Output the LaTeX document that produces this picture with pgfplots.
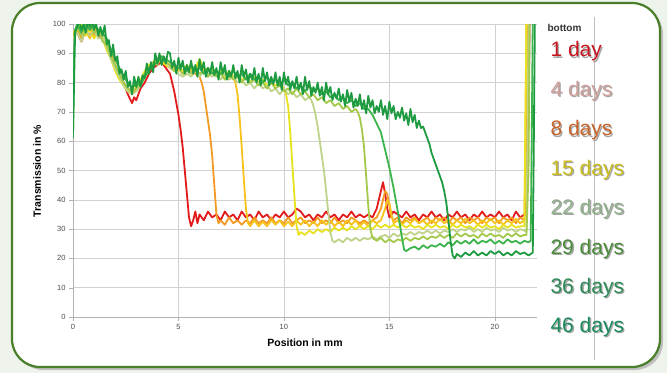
\documentclass[border=0pt]{standalone}
\usepackage{pgfplots}
\pgfplotsset{compat=1.18}
\usepackage{fontspec}
\setmainfont{Liberation Sans}
\definecolor{cA}{HTML}{E31A1C}
\definecolor{cB}{HTML}{F39A26}
\definecolor{cC}{HTML}{F8C21C}
\definecolor{cD}{HTML}{E8E21E}
\definecolor{cE}{HTML}{BFD38A}
\definecolor{cF}{HTML}{A4C94A}
\definecolor{cG}{HTML}{3CB44B}
\definecolor{cH}{HTML}{1E9B40}
\definecolor{tA}{HTML}{C8141E}
\definecolor{tB}{HTML}{CFA09B}
\definecolor{tC}{HTML}{C8642A}
\definecolor{tD}{HTML}{C8BC1E}
\definecolor{tE}{HTML}{8FAF8A}
\definecolor{tF}{HTML}{4A8A3A}
\definecolor{tG}{HTML}{2E8B57}
\definecolor{tH}{HTML}{1A8A5A}
\definecolor{frameg}{HTML}{4A7F2A}
\definecolor{bgout}{HTML}{EEF3EC}
\begin{document}
\begin{tikzpicture}[x=1pt,y=1pt]
\fill[bgout] (0,0) rectangle (667,373);
\fill[black!25,rounded corners=28pt] (15,3) rectangle (663,367);
\filldraw[fill=white,draw=frameg,line width=2.2pt,rounded corners=28pt] (12,6) rectangle (660,370);
\draw[black!25,line width=0.6pt] (594,13) -- (594,356);
\begin{axis}[
 at={(73pt,56pt)}, anchor=south west, scale only axis, width=464pt, height=293pt,
 xmin=0, xmax=22, ymin=0, ymax=100,
 xtick={0,5,10,15,20}, ytick={0,10,...,100},
 grid=major, grid style={draw=black!18, line width=0.6pt},
 axis x line*=bottom, axis y line*=left,
 axis line style={draw=black!30, line width=0.6pt, -},
 tick align=outside, major tick length=4pt, tick style={draw=black!30},
 ticklabel style={font=\fontsize{7.5}{9}\selectfont, text=black!70},
 /pgf/number format/assume math mode=true,
 every axis plot/.append style={line width=1.8pt, mark=none, line join=round},
]
% 1 day
\addplot[cA] table[row sep=\\] {x y\\
0 95\\ 0.1 98\\ 0.2 97\\ 0.4 94\\ 0.6 98\\ 0.8 96\\ 1.0 99\\ 1.2 96\\ 1.4 95\\ 1.6 93\\ 1.8 89\\ 2.0 86\\ 2.2 82\\ 2.4 80\\ 2.6 76\\ 2.8 73\\ 2.9 75\\ 3.0 74\\ 3.2 78\\ 3.4 80\\ 3.6 83\\ 3.8 85\\ 4.0 86\\ 4.2 87\\ 4.4 85\\ 4.6 83\\ 4.7 80\\ 4.8 77\\ 4.9 73\\ 5.0 69\\ 5.1 64\\ 5.2 58\\ 5.3 50\\ 5.4 42\\ 5.5 34\\ 5.6 31\\ 5.7 33\\ 5.8 36\\ 5.9 32\\ 6.0 35\\ 6.2 33\\ 6.4 36\\ 6.6 34\\ 6.8 35\\ 7.0 33\\ 7.2 36\\ 7.4 34\\ 7.6 35\\ 7.8 33\\ 8.0 36\\ 8.2 34\\ 8.4 35\\ 8.6 33\\ 8.8 36\\ 9.0 34\\ 9.2 35\\ 9.4 33\\ 9.6 35\\ 9.8 34\\ 10.0 36\\ 10.2 34\\ 10.4 35\\ 10.6 37\\ 10.8 36\\ 11.0 34\\ 11.2 35\\ 11.4 33\\ 11.6 35\\ 11.8 34\\ 12.0 36\\ 12.2 34\\ 12.4 35\\ 12.6 33\\ 12.8 35\\ 13.0 34\\ 13.2 36\\ 13.4 34\\ 13.6 35\\ 13.8 34\\ 14.0 35\\ 14.2 34\\ 14.4 37\\ 14.5 40\\ 14.6 43\\ 14.7 46\\ 14.8 42\\ 14.9 37\\ 15.0 34\\ 15.2 36\\ 15.4 35\\ 15.6 34\\ 15.8 36\\ 16.0 34\\ 16.2 35\\ 16.4 33\\ 16.6 35\\ 16.8 34\\ 17.0 36\\ 17.2 34\\ 17.4 35\\ 17.6 33\\ 17.8 35\\ 18.0 34\\ 18.2 36\\ 18.4 34\\ 18.6 35\\ 18.8 33\\ 19.0 35\\ 19.2 34\\ 19.4 36\\ 19.6 34\\ 19.8 35\\ 20.0 34\\ 20.2 36\\ 20.4 34\\ 20.6 35\\ 20.8 33\\ 21.0 36\\ 21.2 34\\ 21.4 35\\ 21.5 36\\ 21.6 70\\ 21.65 102\\
};
% 4 days
\addplot[cB] table[row sep=\\] {x y\\
0 96\\ 0.2 98\\ 0.4 95\\ 0.6 97\\ 0.8 99\\ 1.0 96\\ 1.2 98\\ 1.4 95\\ 1.6 92\\ 1.8 90\\ 2.0 86\\ 2.2 83\\ 2.4 80\\ 2.6 78\\ 2.8 76\\ 3.0 78\\ 3.2 80\\ 3.4 82\\ 3.6 84\\ 3.8 86\\ 4.0 87\\ 4.2 88\\ 4.4 86\\ 4.6 85\\ 4.8 84\\ 5.0 85\\ 5.2 83\\ 5.4 85\\ 5.6 84\\ 5.8 83\\ 6.0 82\\ 6.1 80\\ 6.2 77\\ 6.3 72\\ 6.4 67\\ 6.5 62\\ 6.6 55\\ 6.7 45\\ 6.8 35\\ 6.9 32\\ 7.0 33\\ 7.2 31.5\\ 7.4 34\\ 7.6 32\\ 7.8 33\\ 8.0 31.5\\ 8.2 33\\ 8.4 32\\ 8.6 34\\ 8.8 32\\ 9.0 33\\ 9.2 32\\ 9.4 34\\ 9.6 32\\ 9.8 33\\ 10.0 32\\ 10.2 34\\ 10.4 32\\ 10.6 33\\ 10.8 34\\ 11.0 32\\ 11.2 33\\ 11.4 32\\ 11.6 34\\ 11.8 32\\ 12.0 33\\ 12.2 32\\ 12.4 34\\ 12.6 32\\ 12.8 33\\ 13.0 32\\ 13.2 34\\ 13.4 33\\ 13.6 32\\ 13.8 33\\ 14.0 32\\ 14.2 33\\ 14.4 34\\ 14.6 37\\ 14.7 40\\ 14.8 43\\ 14.9 42\\ 15.0 38\\ 15.1 34\\ 15.2 33\\ 15.4 34\\ 15.6 32\\ 15.8 34\\ 16.0 33\\ 16.2 34\\ 16.4 32\\ 16.6 33\\ 16.8 34\\ 17.0 32\\ 17.2 34\\ 17.4 33\\ 17.6 34\\ 17.8 32\\ 18.0 34\\ 18.2 33\\ 18.4 34\\ 18.6 32\\ 18.8 34\\ 19.0 33\\ 19.2 34\\ 19.4 32\\ 19.6 34\\ 19.8 33\\ 20.0 34\\ 20.2 32\\ 20.4 34\\ 20.6 33\\ 20.8 34\\ 21.0 32\\ 21.2 34\\ 21.4 33\\ 21.5 40\\ 21.55 102\\
};
% 8 days
\addplot[cC] table[row sep=\\] {x y\\
0 97\\ 0.2 99\\ 0.4 96\\ 0.6 98\\ 0.8 95\\ 1.0 99\\ 1.2 97\\ 1.4 96\\ 1.6 93\\ 1.8 89\\ 2.0 86\\ 2.2 82\\ 2.4 79\\ 2.6 77\\ 2.8 77\\ 3.0 78\\ 3.2 80\\ 3.4 83\\ 3.6 85\\ 3.8 86\\ 4.0 88\\ 4.2 89\\ 4.4 87\\ 4.6 86\\ 4.8 85\\ 5.0 84\\ 5.2 86\\ 5.4 84\\ 5.6 85\\ 5.8 84\\ 6.0 87\\ 6.2 84\\ 6.4 85\\ 6.6 83\\ 6.8 84\\ 7.0 83\\ 7.2 84\\ 7.4 82\\ 7.6 82\\ 7.7 80\\ 7.8 76\\ 7.9 68\\ 8.0 58\\ 8.1 47\\ 8.2 37\\ 8.3 32\\ 8.4 31\\ 8.6 33\\ 8.8 31\\ 9.0 32.5\\ 9.2 31\\ 9.4 33\\ 9.6 31.5\\ 9.8 33\\ 10.0 31\\ 10.2 32.5\\ 10.4 31\\ 10.6 33\\ 10.8 31.5\\ 11.0 33\\ 11.2 31\\ 11.4 32.5\\ 11.6 31\\ 11.8 33\\ 12.0 31.5\\ 12.2 33\\ 12.4 31\\ 12.6 32.5\\ 12.8 31\\ 13.0 33\\ 13.2 31.5\\ 13.4 33\\ 13.6 31\\ 13.8 32.5\\ 14.0 31\\ 14.2 33\\ 14.4 32\\ 14.6 33\\ 14.8 37\\ 14.9 40\\ 15.0 39\\ 15.1 35\\ 15.2 32\\ 15.4 33\\ 15.6 31.5\\ 15.8 33\\ 16.0 32\\ 16.2 33.5\\ 16.4 32\\ 16.6 33\\ 16.8 31.5\\ 17.0 33\\ 17.2 32\\ 17.4 33.5\\ 17.6 32\\ 17.8 33\\ 18.0 31.5\\ 18.2 33\\ 18.4 32\\ 18.6 33.5\\ 18.8 32\\ 19.0 33\\ 19.2 31.5\\ 19.4 33\\ 19.6 32\\ 19.8 33.5\\ 20.0 32\\ 20.2 33\\ 20.4 31.5\\ 20.6 33\\ 20.8 32\\ 21.0 33.5\\ 21.2 32\\ 21.4 33\\ 21.45 60\\ 21.5 102\\
};
% 15 days
\addplot[cD] table[row sep=\\] {x y\\
0 96\\ 0.2 98\\ 0.4 100\\ 0.6 96\\ 0.8 98\\ 1.0 95\\ 1.2 98\\ 1.4 95\\ 1.6 91\\ 1.8 88\\ 2.0 84\\ 2.2 81\\ 2.4 79\\ 2.6 77\\ 2.8 78\\ 3.0 79\\ 3.2 81\\ 3.4 84\\ 3.6 86\\ 3.8 87\\ 4.0 88\\ 4.2 87\\ 4.4 86\\ 4.6 85\\ 4.8 84\\ 5.0 85\\ 5.2 84\\ 5.4 86\\ 5.6 84\\ 5.8 85\\ 6.0 88\\ 6.2 85\\ 6.4 84\\ 6.6 85\\ 6.8 83\\ 7.0 84\\ 7.2 82\\ 7.4 84\\ 7.6 82\\ 7.8 83\\ 8.0 81\\ 8.2 82\\ 8.4 80\\ 8.6 82\\ 8.8 80\\ 9.0 81\\ 9.2 79\\ 9.4 80\\ 9.6 79\\ 9.8 80\\ 10.0 78\\ 10.1 76\\ 10.2 72\\ 10.3 63\\ 10.4 52\\ 10.5 41\\ 10.6 31\\ 10.7 28\\ 10.8 29\\ 11.0 28\\ 11.2 29.5\\ 11.4 28.5\\ 11.6 30\\ 11.8 29\\ 12.0 30\\ 12.2 29\\ 12.4 30.5\\ 12.6 29.5\\ 12.8 30.5\\ 13.0 29.5\\ 13.2 31\\ 13.4 30\\ 13.6 31\\ 13.8 30\\ 14.0 31\\ 14.2 30\\ 14.4 31.5\\ 14.6 30.5\\ 14.8 31.5\\ 15.0 30.5\\ 15.2 31.5\\ 15.4 30.5\\ 15.6 31.5\\ 15.8 30.5\\ 16.0 31.5\\ 16.2 30.5\\ 16.4 31\\ 16.6 30\\ 16.8 31.5\\ 17.0 30.5\\ 17.2 31.5\\ 17.4 30.5\\ 17.6 31\\ 17.8 30\\ 18.0 31.5\\ 18.2 30.5\\ 18.4 31.5\\ 18.6 30.5\\ 18.8 31\\ 19.0 30\\ 19.2 31.5\\ 19.4 30.5\\ 19.6 31.5\\ 19.8 30.5\\ 20.0 31\\ 20.2 30\\ 20.4 31.5\\ 20.6 30.5\\ 20.8 31.5\\ 21.0 30.5\\ 21.2 31\\ 21.4 31\\ 21.45 70\\ 21.5 102\\
};
% 22 days
\addplot[cE] table[row sep=\\] {x y\\
0 95\\ 0.2 97\\ 0.4 94\\ 0.6 98\\ 0.8 96\\ 1.0 98\\ 1.2 95\\ 1.4 96\\ 1.6 92\\ 1.8 88\\ 2.0 85\\ 2.2 82\\ 2.4 79\\ 2.6 77\\ 2.8 76\\ 3.0 77\\ 3.2 79\\ 3.4 82\\ 3.6 84\\ 3.8 86\\ 4.0 87\\ 4.2 88\\ 4.4 87\\ 4.6 85\\ 4.8 84\\ 5.0 83\\ 5.2 82\\ 5.4 83\\ 5.6 82\\ 5.8 84\\ 6.0 82\\ 6.2 84\\ 6.4 83\\ 6.6 82\\ 6.8 83\\ 7.0 81\\ 7.2 83\\ 7.4 81\\ 7.6 82\\ 7.8 80\\ 8.0 81\\ 8.2 79\\ 8.4 80\\ 8.6 78\\ 8.8 80\\ 9.0 78\\ 9.2 79\\ 9.4 77\\ 9.6 78\\ 9.8 76\\ 10.0 78\\ 10.2 76\\ 10.4 77\\ 10.6 75\\ 10.8 76\\ 11.0 74\\ 11.2 75\\ 11.3 74\\ 11.4 72\\ 11.5 69\\ 11.6 65\\ 11.7 60\\ 11.8 55\\ 11.9 50\\ 12.0 43\\ 12.1 36\\ 12.2 29\\ 12.3 26\\ 12.4 25.5\\ 12.6 26.5\\ 12.8 25.5\\ 13.0 27\\ 13.2 26\\ 13.4 27\\ 13.6 26\\ 13.8 27\\ 14.0 26.5\\ 14.2 27.5\\ 14.4 26.5\\ 14.6 27.5\\ 14.8 28\\ 15.0 27\\ 15.2 28.5\\ 15.4 27.5\\ 15.6 28.5\\ 15.8 28\\ 16.0 29\\ 16.2 28\\ 16.4 29\\ 16.6 28.5\\ 16.8 29.5\\ 17.0 28.5\\ 17.2 29.5\\ 17.4 28.5\\ 17.6 29.5\\ 17.8 29\\ 18.0 30\\ 18.2 29\\ 18.4 30\\ 18.6 29.5\\ 18.8 30.5\\ 19.0 29\\ 19.2 30\\ 19.4 29\\ 19.6 30.5\\ 19.8 29.5\\ 20.0 30\\ 20.2 29\\ 20.4 30.5\\ 20.6 29.5\\ 20.8 30\\ 21.0 29\\ 21.2 30\\ 21.4 29.5\\ 21.5 29\\ 21.55 60\\ 21.6 102\\
};
% 29 days
\addplot[cF] table[row sep=\\] {x y\\
0 96\\ 0.2 99\\ 0.4 96\\ 0.6 97\\ 0.8 100\\ 1.0 97\\ 1.2 98\\ 1.4 94\\ 1.6 93\\ 1.8 89\\ 2.0 86\\ 2.2 83\\ 2.4 80\\ 2.6 78\\ 2.8 77\\ 3.0 78\\ 3.2 80\\ 3.4 83\\ 3.6 85\\ 3.8 87\\ 4.0 86\\ 4.2 89\\ 4.4 87\\ 4.6 86\\ 4.8 84\\ 5.0 85\\ 5.2 83\\ 5.4 84\\ 5.6 83\\ 5.8 85\\ 6.0 83\\ 6.2 84\\ 6.4 82\\ 6.6 84\\ 6.8 82\\ 7.0 83\\ 7.2 81\\ 7.4 83\\ 7.6 81\\ 7.8 82\\ 8.0 80\\ 8.2 82\\ 8.4 80\\ 8.6 81\\ 8.8 79\\ 9.0 80\\ 9.2 78\\ 9.4 80\\ 9.6 78\\ 9.8 79\\ 10.0 77\\ 10.2 78\\ 10.4 76\\ 10.6 78\\ 10.8 76\\ 11.0 77\\ 11.2 75\\ 11.4 76\\ 11.6 74\\ 11.8 75\\ 12.0 73\\ 12.2 74\\ 12.4 72\\ 12.6 73\\ 12.8 71\\ 13.0 72\\ 13.2 70\\ 13.4 71\\ 13.5 70\\ 13.6 68\\ 13.7 64\\ 13.8 58\\ 13.9 48\\ 14.0 38\\ 14.1 30\\ 14.2 27\\ 14.4 26\\ 14.6 27\\ 14.8 25.5\\ 15.0 26.5\\ 15.2 25.5\\ 15.4 26.5\\ 15.6 26\\ 15.8 27\\ 16.0 26\\ 16.2 27\\ 16.4 26.5\\ 16.6 27.5\\ 16.8 26.5\\ 17.0 27.5\\ 17.2 27\\ 17.4 28\\ 17.6 27\\ 17.8 28\\ 18.0 27\\ 18.2 28.5\\ 18.4 27.5\\ 18.6 28.5\\ 18.8 27.5\\ 19.0 28\\ 19.2 27\\ 19.4 28.5\\ 19.6 27.5\\ 19.8 28.5\\ 20.0 27.5\\ 20.2 28\\ 20.4 27\\ 20.6 28.5\\ 20.8 27.5\\ 21.0 28.5\\ 21.2 27.5\\ 21.4 28\\ 21.5 28\\ 21.6 50\\ 21.65 102\\
};
% 36 days
\addplot[cG] table[row sep=\\] {x y\\
0 61\\ 0.05 90\\ 0.1 98\\ 0.2 100\\ 0.4 97\\ 0.6 100\\ 0.8 98\\ 1.0 100\\ 1.2 98\\ 1.4 97\\ 1.6 95\\ 1.8 91\\ 2.0 88\\ 2.2 85\\ 2.4 82\\ 2.6 80\\ 2.8 78\\ 3.0 80\\ 3.2 79\\ 3.4 82\\ 3.6 84\\ 3.8 86\\ 4.0 87\\ 4.2 89\\ 4.4 88\\ 4.6 87\\ 4.8 86\\ 5.0 85\\ 5.2 86\\ 5.4 84\\ 5.6 86\\ 5.8 84\\ 6.0 85\\ 6.2 83\\ 6.4 85\\ 6.6 83\\ 6.8 84\\ 7.0 83\\ 7.2 84\\ 7.4 82\\ 7.6 84\\ 7.8 82\\ 8.0 83\\ 8.2 81\\ 8.4 83\\ 8.6 81\\ 8.8 82\\ 9.0 80\\ 9.2 82\\ 9.4 80\\ 9.6 81\\ 9.8 79\\ 10.0 81\\ 10.2 79\\ 10.4 80\\ 10.6 78\\ 10.8 79\\ 11.0 77\\ 11.2 79\\ 11.4 77\\ 11.6 78\\ 11.8 76\\ 12.0 77\\ 12.2 75\\ 12.4 76\\ 12.6 74\\ 12.8 75\\ 13.0 73\\ 13.2 74\\ 13.4 72\\ 13.6 73\\ 13.8 71\\ 14.0 71\\ 14.2 69\\ 14.4 66\\ 14.6 63\\ 14.8 57\\ 15.0 51\\ 15.2 44\\ 15.4 36\\ 15.6 27\\ 15.7 23\\ 15.8 22.5\\ 16.0 23.5\\ 16.2 24\\ 16.4 23\\ 16.6 24.5\\ 16.8 23.5\\ 17.0 24.5\\ 17.2 24\\ 17.4 25\\ 17.6 24\\ 17.8 25.5\\ 18.0 24.5\\ 18.2 26\\ 18.4 25\\ 18.6 26\\ 18.8 25\\ 19.0 26.5\\ 19.2 25\\ 19.4 26\\ 19.6 25.5\\ 19.8 26.5\\ 20.0 25\\ 20.2 26\\ 20.4 25\\ 20.6 26.5\\ 20.8 25.5\\ 21.0 26\\ 21.2 25\\ 21.4 26\\ 21.6 25.5\\ 21.7 26\\ 21.75 60\\ 21.8 102\\
};
% 46 days
\addplot[cH] table[row sep=\\] {x y\\
0 62\\ 0.1 97\\ 0.2 99\\ 0.3 101\\ 0.4 98\\ 0.5 100\\ 0.6 97\\ 0.7 101\\ 0.8 99\\ 0.9 101\\ 1.0 98\\ 1.1 100\\ 1.2 96\\ 1.3 99\\ 1.4 96\\ 1.5 99.5\\ 1.6 93\\ 1.7 94.5\\ 1.8 89\\ 1.9 93\\ 2.0 87.5\\ 2.1 89\\ 2.2 83\\ 2.3 84.5\\ 2.4 81\\ 2.5 84\\ 2.6 78.5\\ 2.7 80.5\\ 2.8 76\\ 2.9 82\\ 3.0 78.5\\ 3.1 82\\ 3.2 78.5\\ 3.3 82.5\\ 3.4 81.5\\ 3.5 86.5\\ 3.6 83\\ 3.7 87\\ 3.8 83.5\\ 3.9 90\\ 4.0 86.5\\ 4.1 90\\ 4.2 86\\ 4.3 89\\ 4.4 86.5\\ 4.5 90.5\\ 4.6 90\\ 4.7 85\\ 4.8 87.5\\ 4.9 83\\ 5.0 88.5\\ 5.1 84.5\\ 5.2 87.5\\ 5.3 83\\ 5.4 86\\ 5.5 83.5\\ 5.6 87.5\\ 5.7 83\\ 5.8 86\\ 5.9 82\\ 6.0 88\\ 6.1 84\\ 6.2 87\\ 6.3 82\\ 6.4 85\\ 6.5 83\\ 6.6 87\\ 6.7 82.5\\ 6.8 85\\ 6.9 81\\ 7.0 87\\ 7.1 83\\ 7.2 86\\ 7.3 81\\ 7.4 84\\ 7.5 82\\ 7.6 86\\ 7.7 81.5\\ 7.8 84\\ 7.9 80\\ 8.0 86\\ 8.1 82\\ 8.2 84.5\\ 8.3 80\\ 8.4 83\\ 8.5 81\\ 8.6 85\\ 8.7 80\\ 8.8 83\\ 8.9 79\\ 9.0 85\\ 9.1 80.5\\ 9.2 83.5\\ 9.3 79\\ 9.4 82\\ 9.5 79.5\\ 9.6 83.5\\ 9.7 79\\ 9.8 82\\ 9.9 77.5\\ 10.0 83.5\\ 10.1 79.5\\ 10.2 82\\ 10.3 77.5\\ 10.4 80.5\\ 10.5 78\\ 10.6 82\\ 10.7 77.5\\ 10.8 80\\ 10.9 76\\ 11.0 82\\ 11.1 77.5\\ 11.2 80.5\\ 11.3 75.5\\ 11.4 78.5\\ 11.5 76.5\\ 11.6 80\\ 11.7 75.5\\ 11.8 78.5\\ 11.9 74\\ 12.0 80\\ 12.1 76\\ 12.2 78.5\\ 12.3 74\\ 12.4 76.5\\ 12.5 74.5\\ 12.6 78\\ 12.7 73.5\\ 12.8 76\\ 12.9 72\\ 13.0 77.5\\ 13.1 73.5\\ 13.2 76.5\\ 13.3 71.5\\ 13.4 74.5\\ 13.5 72\\ 13.6 76\\ 13.7 71\\ 13.8 74\\ 13.9 69.5\\ 14.0 75.5\\ 14.1 71.5\\ 14.2 74\\ 14.3 69.5\\ 14.4 72\\ 14.5 70\\ 14.6 74\\ 14.7 69\\ 14.8 72\\ 14.9 67.5\\ 15.0 73.5\\ 15.1 69.5\\ 15.2 72\\ 15.3 67.5\\ 15.4 70\\ 15.5 68\\ 15.6 71.5\\ 15.7 67\\ 15.8 69.5\\ 15.9 65.5\\ 16.0 71\\ 16.1 66.5\\ 16.2 69\\ 16.3 64.5\\ 16.4 67\\ 16.5 64.5\\ 16.6 65\\ 16.7 63\\ 16.8 61\\ 16.9 59\\ 17.0 56\\ 17.1 54\\ 17.2 52\\ 17.3 50\\ 17.4 48\\ 17.5 46\\ 17.6 43\\ 17.7 39\\ 17.8 33\\ 17.9 26\\ 18.0 21\\ 18.1 20\\ 18.2 21.5\\ 18.4 20.5\\ 18.6 22\\ 18.8 21\\ 19.0 22.5\\ 19.2 21\\ 19.4 22\\ 19.6 21\\ 19.8 22.5\\ 20.0 21.5\\ 20.2 22.5\\ 20.4 21\\ 20.6 22\\ 20.8 21\\ 21.0 22.5\\ 21.2 21.5\\ 21.4 22\\ 21.6 21\\ 21.8 22\\ 21.85 60\\ 21.9 102\\
};
\end{axis}
\node[font=\bfseries\fontsize{10.5}{12}\selectfont] at (305,30) {Position in mm};
\node[font=\bfseries\fontsize{10.5}{12}\selectfont, rotate=90] at (37,202) {Transmission in \%};
\node[anchor=base west, font=\bfseries\fontsize{10}{12}\selectfont, text=black!80] at (544,341) {bottom};
\foreach \t/\c/\yy in {1 day/tA/316, 4 days/tB/276.5, 8 days/tC/237.2, 15 days/tD/198, 22 days/tE/158.5, 29 days/tF/119, 36 days/tG/80, 46 days/tH/40.5}{
  \node[anchor=base west, font=\fontsize{21}{24}\selectfont, text=black!35] at (548.3,\yy-1.3) {\t};
  \node[anchor=base west, font=\fontsize{21}{24}\selectfont, text=\c] at (547,\yy) {\t};
}
\end{tikzpicture}
\end{document}
